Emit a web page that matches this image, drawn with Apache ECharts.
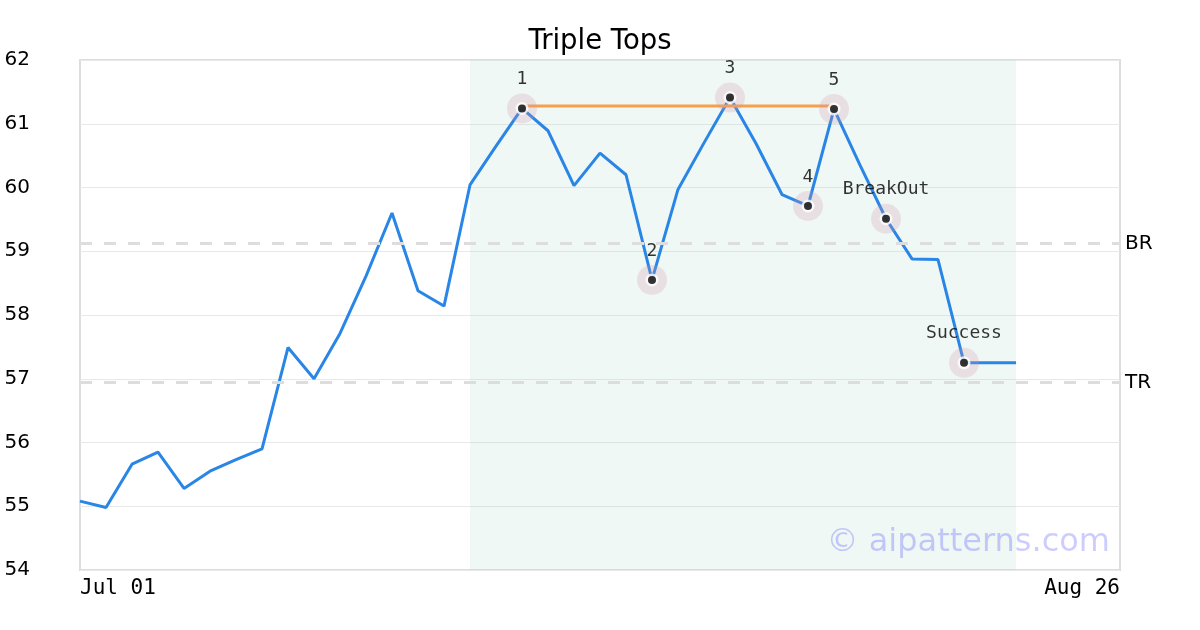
<!DOCTYPE html>
<html>
<head>
<meta charset="utf-8">
<style>html,body{margin:0;padding:0;background:#fff;}#chart{width:1200px;height:630px;}</style>
<script src="https://cdn.jsdelivr.net/npm/echarts@6/dist/echarts.min.js"></script>
</head>
<body>
<div id="chart"></div>
<script>
var dates = ['Jul 01','Jul 02','Jul 03','Jul 04','Jul 05','Jul 08','Jul 09','Jul 10','Jul 11','Jul 12',
  'Jul 15','Jul 16','Jul 17','Jul 18','Jul 19','Jul 22','Jul 23','Jul 24','Jul 25','Jul 26',
  'Jul 29','Jul 30','Jul 31','Aug 01','Aug 02','Aug 05','Aug 06','Aug 07','Aug 08','Aug 09',
  'Aug 12','Aug 13','Aug 14','Aug 15','Aug 16','Aug 19','Aug 20','Aug 21','Aug 22','Aug 23','Aug 26'];
var prices = [55.08, 54.98, 55.66, 55.85, 55.28, 55.55, 55.73, 55.90, 57.49, 57.00,
  57.71, 58.61, 59.60, 58.38, 58.14, 60.04, 60.65, 61.24, 60.89, 60.03,
  60.54, 60.20, 58.55, 59.97, 60.70, 61.41, 60.69, 59.89, 59.71, 61.23,
  60.35, 59.51, 58.88, 58.87, 57.25, 57.25, 57.25];
var markerIdx = [17, 22, 25, 28, 29, 31, 34];
var markerLabels = ['1', '2', '3', '4', '5', 'BreakOut', 'Success'];
var topLineStart = 17, topLineEnd = 29, topLevel = 61.28;
var patternStart = 15, patternEnd = 36;
var levelNames = ['BR', 'TR'];
var levelValues = [59.12, 56.94];
var yTicks = [54, 55, 56, 57, 58, 59, 60, 61, 62];

var priceData = dates.map(function (d, i) { return i < prices.length ? prices[i] : null; });
var topData = dates.map(function (d, i) { return (i === topLineStart || i === topLineEnd) ? topLevel : null; });
var markerData = markerIdx.map(function (idx, k) { return { value: [idx, prices[idx]], name: markerLabels[k] }; });

var chart = echarts.init(document.getElementById('chart'), null, { renderer: 'canvas' });
chart.setOption({
  animation: false,
  backgroundColor: '#ffffff',
  title: {
    text: 'Triple Tops', left: 'center', top: 23,
    textStyle: { fontFamily: 'DejaVu Sans', fontSize: 27.5, fontWeight: 'normal', color: '#000' }
  },
  grid: { left: 80, right: 80, top: 60, bottom: 60, show: true, borderColor: '#dddddd', borderWidth: 2, backgroundColor: 'transparent' },
  xAxis: {
    type: 'category', data: dates, boundaryGap: false,
    axisLine: { show: false }, axisTick: { show: false }, splitLine: { show: false },
    axisLabel: {
      interval: dates.length - 2, margin: 8, fontFamily: 'DejaVu Sans Mono', fontSize: 21, color: '#000',
      alignMinLabel: 'left', alignMaxLabel: 'right'
    }
  },
  yAxis: {
    type: 'value', min: yTicks[0], max: yTicks[yTicks.length - 1], interval: 1,
    axisLine: { show: false }, axisTick: { show: false },
    splitLine: { show: true, lineStyle: { color: '#e8e8e8', width: 1 } },
    axisLabel: { margin: 50, fontFamily: 'DejaVu Sans', fontSize: 20, color: '#000', padding: [3, 0, 0, 0] }
  },
  graphic: [{
    type: 'text', right: 90, top: 527, z: 100,
    style: { text: '\u00a9 aipatterns.com', font: '32px "DejaVu Sans"', fill: 'rgba(0,0,255,0.2)' }
  }],
  series: [
    {
      type: 'line', data: priceData, showSymbol: false, symbol: 'none', z: 2,
      lineStyle: { color: '#2a86e6', width: 3 },
      markArea: {
        silent: true,
        itemStyle: { color: 'rgba(180,220,205,0.2)' },
        data: [[{ xAxis: dates[patternStart] }, { xAxis: dates[patternEnd] }]]
      },
      markLine: {
        silent: true, symbol: 'none',
        lineStyle: { color: '#dddddd', width: 3, type: [12, 12] },
        label: { position: 'end', distance: 5, formatter: '{b}', fontFamily: 'DejaVu Sans', fontSize: 20, color: '#000' },
        data: levelNames.map(function (n, i) { return { name: n, yAxis: levelValues[i] }; })
      }
    },
    {
      type: 'line', data: topData, connectNulls: true, showSymbol: false, symbol: 'none', z: 3,
      lineStyle: { color: '#f7a04b', width: 3 }
    },
    {
      type: 'scatter', data: markerData, symbol: 'circle', symbolSize: 30, z: 4,
      itemStyle: { color: 'rgba(210,150,170,0.3)' },
      label: { show: true, position: 'top', distance: 5, formatter: '{b}', fontFamily: 'DejaVu Sans Mono', fontSize: 18, color: '#000' }
    },
    {
      type: 'scatter', data: markerData, symbol: 'circle', symbolSize: 13, z: 5,
      itemStyle: { color: '#ffffff' }
    },
    {
      type: 'scatter', data: markerData, symbol: 'circle', symbolSize: 8, z: 6,
      itemStyle: { color: '#000000' }
    }
  ]
});
</script>
</body>
</html>
